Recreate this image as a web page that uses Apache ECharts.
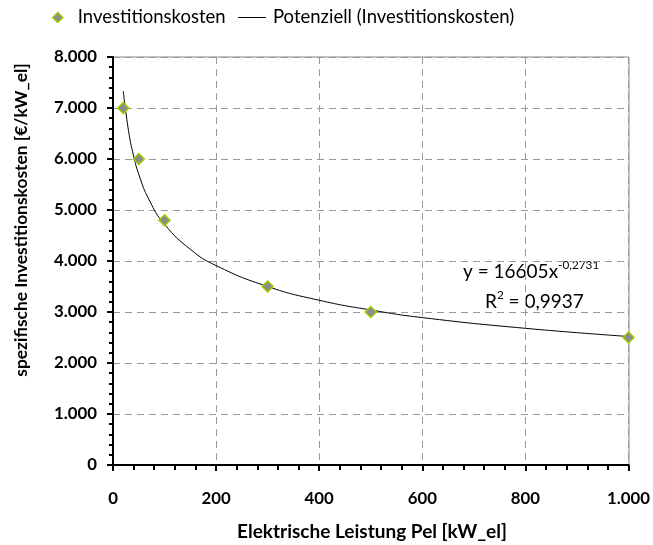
<!DOCTYPE html>
<html>
<head>
<meta charset="utf-8">
<script src="https://cdn.jsdelivr.net/npm/echarts@6/dist/echarts.min.js"></script>
<style>html,body{margin:0;padding:0;background:#fff}</style>
</head>
<body>
<div id="chart" style="width:653px;height:545px"></div>
<script>
// Messpunkte
var leistung = [20, 50, 100, 300, 500, 1000];
var kosten = [7000, 6000, 4800, 3500, 3000, 2500];
// Trendlinie
var trendX = [20, 30, 40, 50, 70, 100, 150, 200, 300, 400, 500, 600, 800, 1000];
var trendY = [7330, 6560, 6060, 5700, 5200, 4720, 4230, 3910, 3500, 3230, 3040, 2890, 2680, 2520];

var fontName = 'Lato';
var fmt = function (v) {
  return String(v).replace(/\B(?=(\d{3})+(?!\d))/g, '.');
};

// Schriftgröße so wählen, dass der Text die Breite aus der Vorlage hat
var ctx = document.createElement('canvas').getContext('2d');
function fit(text, weight, width) {
  ctx.font = weight + ' 100px ' + fontName;
  return Math.round(1000 * width / ctx.measureText(text).width) / 10;
}
var fsLegend = fit('Investitionskosten', 'normal', 148);
var fsTick = fit('8.000', 'bold', 43);
var fsXName = fit('Elektrische Leistung Pel [kW_el]', 'bold', 270);
var fsYName = fit('spezifische Investitionskosten [€/kW_el]', 'bold', 314);
var fsEq = fit('y = 16605x', 'normal', 95);

var chart = echarts.init(document.getElementById('chart'));
chart.setOption({
  backgroundColor: '#fff',
  animation: false,
  textStyle: { fontFamily: fontName },
  legend: [
    {
      left: 52, top: 8, padding: 0,
      itemWidth: 10, itemHeight: 10,
      textStyle: { fontSize: fsLegend, color: '#000', fontFamily: fontName, padding: [0, 0, 0, 10] },
      data: [{ name: 'Investitionskosten', icon: 'diamond', itemStyle: { color: '#8c8c8c', borderColor: '#99cc00', borderWidth: 1.5 } }]
    },
    {
      left: 238, top: 8, padding: 0,
      itemWidth: 28, itemHeight: 10,
      textStyle: { fontSize: fsLegend, color: '#000', fontFamily: fontName, padding: [0, 0, 0, 2] },
      data: [{ name: 'Potenziell (Investitionskosten)', icon: 'path://M0,5 L28,5 L28,6 L0,6 Z', itemStyle: { color: '#000' } }]
    }
  ],
  grid: { left: 113, right: 24, top: 57, bottom: 80 },
  xAxis: {
    type: 'value',
    min: 0, max: 1000, interval: 200,
    axisLine: { onZero: false, lineStyle: { color: '#000', width: 2 } },
    axisTick: { show: true, length: 6, lineStyle: { color: '#000', width: 2 } },
    minorTick: { show: true, splitNumber: 5, length: 5, lineStyle: { color: '#000', width: 2 } },
    axisLabel: { fontSize: fsTick, fontWeight: 'bold', color: '#000', margin: 33 - fsTick / 2, formatter: fmt },
    splitLine: { show: true, lineStyle: { color: '#999', type: [7, 5], width: 1 } }
  },
  yAxis: {
    type: 'value',
    min: 0, max: 8000, interval: 1000,
    axisLine: { show: true, lineStyle: { color: '#000', width: 2 } },
    axisTick: { show: true, length: 6, lineStyle: { color: '#000', width: 2 } },
    minorTick: { show: true, splitNumber: 5, length: 4, lineStyle: { color: '#000', width: 2 } },
    axisLabel: { fontSize: fsTick, fontWeight: 'bold', color: '#000', margin: 16, formatter: fmt },
    splitLine: { show: true, lineStyle: { color: '#999', type: [7, 5], width: 1 } }
  },
  graphic: [
    { type: 'line', shape: { x1: 113, y1: 57, x2: 629, y2: 57 }, style: { stroke: '#888', lineWidth: 1 } },
    { type: 'line', shape: { x1: 629, y1: 57, x2: 629, y2: 465 }, style: { stroke: '#888', lineWidth: 1 } },
    {
      type: 'text', x: 21, y: 220, rotation: Math.PI / 2,
      style: {
        text: 'spezifische Investitionskosten [€/kW_el]',
        fontSize: fsYName, fontWeight: 'bold', fontFamily: fontName, fill: '#000',
        align: 'center', verticalAlign: 'middle'
      }
    },
    {
      type: 'text', x: 372, y: 532,
      style: {
        text: 'Elektrische Leistung Pel [kW_el]',
        fontSize: fsXName, fontWeight: 'bold', fontFamily: fontName, fill: '#000',
        align: 'center', verticalAlign: 'middle'
      }
    },
    {
      type: 'text', x: 463, y: 272,
      style: {
        text: '{n|y = 16605x}{s|-0,2731}',
        verticalAlign: 'middle',
        rich: {
          n: { fontSize: fsEq, fontFamily: fontName, fill: '#000' },
          s: { fontSize: fsEq * 0.62, fontFamily: fontName, fill: '#000', padding: [0, 0, fsEq * 0.7, 0] }
        }
      }
    },
    {
      type: 'text', x: 485, y: 302,
      style: {
        text: '{n|R}{s|2}{n| = 0,9937}',
        verticalAlign: 'middle',
        rich: {
          n: { fontSize: fsEq, fontFamily: fontName, fill: '#000' },
          s: { fontSize: fsEq * 0.62, fontFamily: fontName, fill: '#000', padding: [0, 0, fsEq * 0.7, 0] }
        }
      }
    }
  ],
  series: [
    {
      name: 'Potenziell (Investitionskosten)',
      type: 'line',
      smooth: true,
      showSymbol: false,
      lineStyle: { color: '#000', width: 1 },
      itemStyle: { color: '#000' },
      data: trendX.map(function (x, i) { return [x, trendY[i]]; }),
      z: 2
    },
    {
      name: 'Investitionskosten',
      type: 'scatter',
      symbol: 'diamond',
      symbolSize: 11,
      itemStyle: { color: '#8c8c8c', borderColor: '#99cc00', borderWidth: 1.5, opacity: 1 },
      data: leistung.map(function (x, i) { return [x, kosten[i]]; }),
      z: 3
    }
  ]
});
</script>
</body>
</html>
